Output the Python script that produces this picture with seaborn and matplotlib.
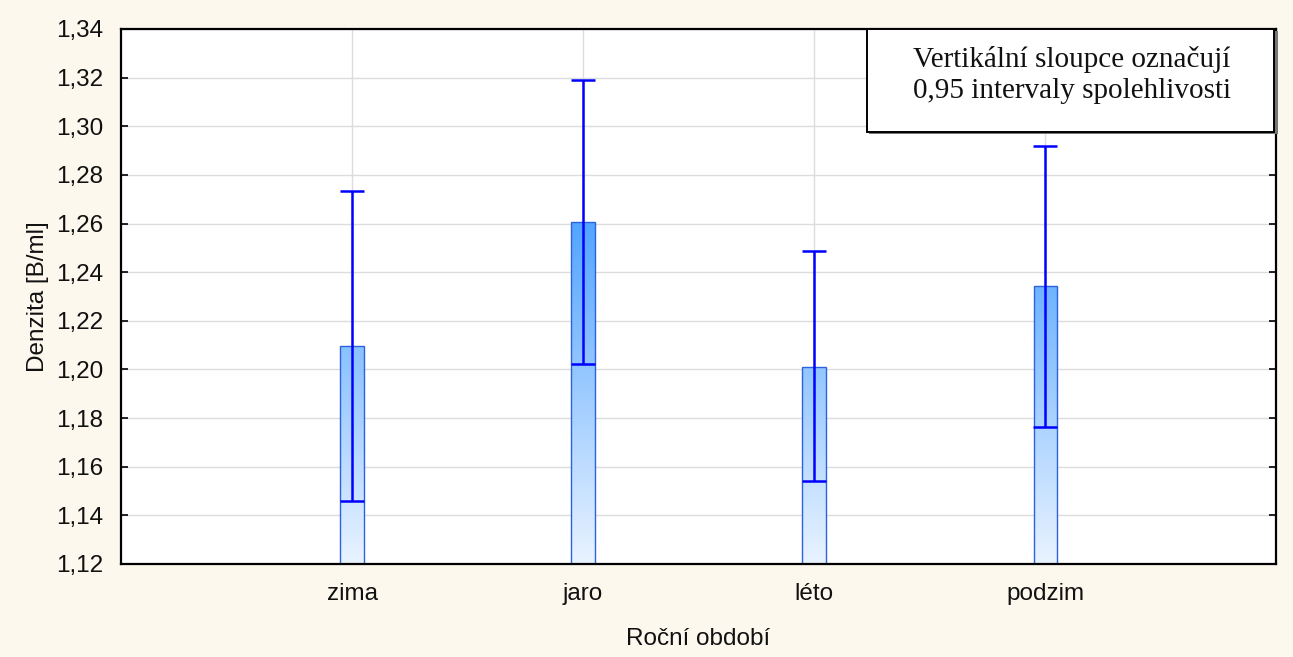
import numpy as np
import matplotlib
matplotlib.use("Agg")
import matplotlib.pyplot as plt
from matplotlib.colors import LinearSegmentedColormap
from matplotlib.patches import Rectangle
from matplotlib.ticker import FuncFormatter
import seaborn as sns
import pandas as pd

# Mean density per season with 95 % confidence limits
seasons = ["zima", "jaro", "léto", "podzim"]
means = [1.2096, 1.2605, 1.2011, 1.2343]
ci_low = [1.1459, 1.2024, 1.1540, 1.1765]
ci_high = [1.2732, 1.3190, 1.2487, 1.2919]
y_ticks = [1.12, 1.14, 1.16, 1.18, 1.20, 1.22, 1.24, 1.26, 1.28, 1.30, 1.32, 1.34]

cream = "#FDF8ED"
sns.set_theme(style="white")
plt.rcParams["font.family"] = ["Liberation Sans", "DejaVu Sans"]

fig = plt.figure(figsize=(12.93, 6.57), dpi=100, facecolor=cream)
ax = fig.add_axes([0.0936, 0.1416, 0.8933, 0.8143])
ax.set_facecolor("white")

df = pd.DataFrame({"season": seasons, "mean": means})
sns.barplot(data=df, x="season", y="mean", width=0.1, errorbar=None,
            color="#8EC5FF", edgecolor="#2A62E0", linewidth=1.0, ax=ax, zorder=2)

ymin, ymax = y_ticks[0], y_ticks[-1]
xmin, xmax = -1, 4

# vertical gradient fill (light at the bottom, saturated towards the top)
grad_cmap = LinearSegmentedColormap.from_list(
    "bluegrad", [(0.0, "#E9F3FF"), (0.64, "#52A4FF"), (1.0, "#1F84FF")])
grad = np.linspace(0, 1, 256).reshape(-1, 1)
for patch in ax.patches:
    patch.set_facecolor("none")
    im = ax.imshow(grad, cmap=grad_cmap, origin="lower", aspect="auto",
                   extent=(xmin, xmax, ymin, ymax), zorder=1.9, interpolation="bilinear")
    im.set_clip_path(patch)

x = np.arange(len(seasons))
m = np.array(means)
ax.errorbar(x, m, yerr=[m - np.array(ci_low), np.array(ci_high) - m], fmt="none",
            ecolor="#0000FF", elinewidth=1.8, capsize=8.5, capthick=1.8, zorder=4)

ax.set_xlim(xmin, xmax)
ax.set_ylim(ymin, ymax)
ax.set_yticks(y_ticks)
ax.yaxis.set_major_formatter(FuncFormatter(lambda v, _: f"{v:.2f}".replace(".", ",")))
ax.set_xticks(x)
ax.set_xticklabels(seasons)

ax.grid(True, color="#DCDCDC", linewidth=1.0, zorder=0)
ax.set_axisbelow(True)

for side in ["left", "right", "top", "bottom"]:
    ax.spines[side].set_visible(True)
    ax.spines[side].set_color("black")
    ax.spines[side].set_linewidth(1.6)

fs = 17.5
ax.tick_params(axis="y", which="major", direction="in", length=5, width=1.2,
               left=True, right=True, labelsize=fs, colors="black", pad=13)
ax.tick_params(axis="x", which="major", direction="in", length=4, width=1.2,
               bottom=True, top=False, labelsize=fs, colors="black", pad=14)
for lbl in ax.get_yticklabels() + ax.get_xticklabels():
    lbl.set_color("#111111")

ax.set_xlabel("Roční období", fontsize=fs, labelpad=16, color="#111111")
ax.set_ylabel("Denzita [B/ml]", fontsize=fs, labelpad=5, color="#111111")

# annotation box in the upper right corner
box_x0, box_y0 = 0.646, 0.807
ax.add_patch(Rectangle((box_x0 + 0.002, box_y0 - 0.004), 1 - box_x0, 1 - box_y0,
                       transform=ax.transAxes, facecolor="#777777", edgecolor="none",
                       zorder=5, clip_on=False))
ax.add_patch(Rectangle((box_x0, box_y0), 1 - box_x0 - 0.002, 1 - box_y0,
                       transform=ax.transAxes, facecolor="white", edgecolor="black",
                       linewidth=1.4, zorder=6, clip_on=False))
ax.text((box_x0 + 1) / 2, (box_y0 + 1) / 2 + 0.01,
        "Vertikální sloupce označují\n0,95 intervaly spolehlivosti",
        transform=ax.transAxes, ha="center", va="center", fontsize=21,
        family=["Liberation Serif", "DejaVu Serif"], linespacing=1.25,
        color="#111111", zorder=7)

fig.savefig("out.png", dpi=100, facecolor=cream)
